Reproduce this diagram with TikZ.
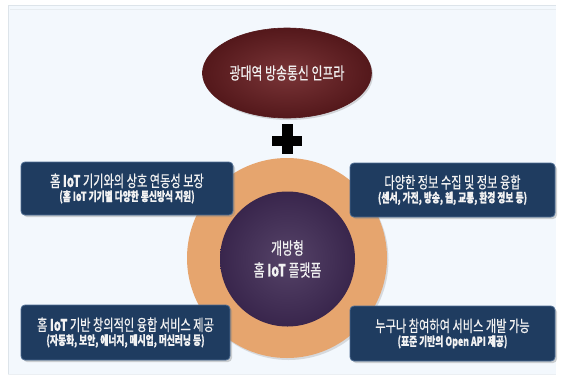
\documentclass[tikz,border=0pt]{standalone}
\usepackage{fontspec}
\newfontfamily\kr[FakeStretch=0.7,FakeBold=0.5]{Noto Sans CJK KR}
\usetikzlibrary{shapes.geometric,shadows}
\definecolor{panelbg}{HTML}{F3F8FD}
\definecolor{panelline}{HTML}{DDE4EA}
\definecolor{infra}{HTML}{6E2326}
\definecolor{infradark}{HTML}{54181B}
\definecolor{ring}{HTML}{E6A56E}
\definecolor{core}{HTML}{3E2953}
\definecolor{boxfill}{HTML}{1F3C60}
\definecolor{boxline}{HTML}{4D6C92}
\definecolor{txt}{HTML}{F2F2F2}
\tikzset{
  infobox/.style={draw=boxline, line width=0.8pt, fill=boxfill, rounded corners=4pt,
    text=txt, align=center, inner sep=0pt, font=\kr,
    drop shadow={opacity=0.35, shadow xshift=2pt, shadow yshift=-2pt}},
}
\newcommand{\boxtitle}[1]{{\fontsize{16}{18}\selectfont #1}}
\newcommand{\boxsub}[1]{{\fontsize{12.5}{14}\selectfont\bfseries #1}}
\begin{document}
\begin{tikzpicture}[x=1pt,y=-1pt]
\useasboundingbox (0,0) rectangle (561,381);
% panel
\fill[panelbg] (8,5) rectangle (556,374);
\draw[panelline, line width=0.6pt] (8,374) -- (8,5) -- (556,5);
\draw[panelline!70, line width=0.4pt] (10,9) -- (556,9);
\draw[panelline!60, line width=0.4pt] (8,374) -- (556,374);

% top ellipse
\node[ellipse, minimum width=169pt, minimum height=90pt, inner sep=0pt,
  inner color=infra!92!white, outer color=infradark, draw=infradark, line width=0.6pt,
  drop shadow={opacity=0.3, shadow xshift=1.5pt, shadow yshift=-2pt},
  text=txt, font=\kr\fontsize{17}{20}\selectfont] (infra) at (287,73) {광대역 방송통신 인프라};

% plus sign
\fill[black] (281.5,124) rectangle (292.5,154);
\fill[black] (272,136) rectangle (302,145.5);

% rings
\node[circle, minimum size=200pt, inner sep=0pt, fill=ring,
  drop shadow={opacity=0.25, shadow xshift=1.5pt, shadow yshift=-2pt}] (ring) at (287,258) {};
\node[circle, minimum size=135pt, inner sep=0pt, inner color=core!88!white, outer color=core!92!black,
  text=txt, align=center, font=\kr\fontsize{17}{22}\selectfont] (core) at (287.5,259)
  {개방형\\홈 {\bfseries IoT} 플랫폼};

% boxes
\node[infobox, minimum width=212pt, minimum height=53pt] (b1) at (127,188.5)
  {\boxtitle{홈 {\bfseries IoT} 기기와의 상호 연동성 보장}\\[2pt]\boxsub{(홈 IoT 기기별 다양한 통신방식 지원)}};
\node[infobox, minimum width=205pt, minimum height=54pt] (b2) at (452.5,190)
  {\boxtitle{다양한 정보 수집 및 정보 융합}\\[2pt]\boxsub{(센서, 가전, 방송, 웹, 교통, 환경 정보 등)}};
\node[infobox, minimum width=209pt, minimum height=55pt] (b3) at (125.5,332.5)
  {\boxtitle{홈 {\bfseries IoT} 기반 창의적인 융합 서비스 제공}\\[2pt]\boxsub{(자동화, 보안, 에너지, 메시업, 머신러닝 등)}};
\node[infobox, minimum width=205pt, minimum height=55pt] (b4) at (452.5,333.5)
  {\boxtitle{누구나 참여하여 서비스 개발 가능}\\[2pt]\boxsub{(표준 기반의 Open API 제공)}};
\end{tikzpicture}
\end{document}
